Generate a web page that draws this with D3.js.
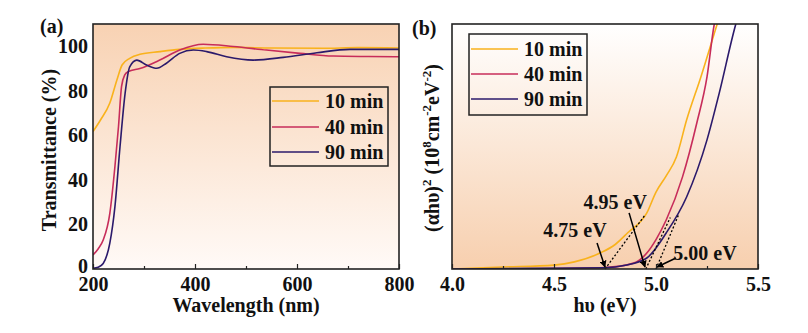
<!DOCTYPE html>
<html>
<head>
<meta charset="utf-8">
<script src="https://cdn.jsdelivr.net/npm/d3@7"></script>
<style>
  body { margin: 0; background: #fff; }
  svg text { font-family: "Liberation Serif", "Times New Roman", serif; font-weight: bold; fill: #111; }
</style>
</head>
<body>
<div id="chart"></div>
<script>
// ---- data: panel (a) transmittance, [wavelength nm, T %]
const trans10 = [[200,61.7],[215,67],[233,74.5],[247,85],[257,91.6],[272,94.6],[292,96.4],[331,97.6],[370,98.6],[420,99.2],[475,99.5],[550,99.2],[650,99.1],[720,99.4],[800,99.2]];
const trans40 = [[200,6.3],[210,9],[220,13],[233,25],[243,46],[250,64],[256,82],[262,87],[269,88.6],[292,90],[331,93.8],[370,98.3],[416,100.9],[475,99.9],[540,98.3],[606,96.8],[671,95.6],[740,95.4],[800,95.3]];
const trans90 = [[200,0.3],[210,0.8],[220,2.5],[233,11.6],[243,28],[253,55],[263,79],[272,90.8],[286,93.8],[305,91.6],[325,90.1],[344,92.4],[370,96.8],[397,98.3],[423,97.6],[462,95.3],[514,93.8],[573,95],[639,97.1],[704,98.6],[800,98.6]];

// ---- data: panel (b) Tauc plot, [hv eV, (ahv)^2 arb.]
const tauc10 = [[4.0,0],[4.25,0.08],[4.5,0.16],[4.6,0.29],[4.725,0.65],[4.8,1.0],[4.86,1.47],[4.955,2.29],[5.0,3.14],[5.05,3.8],[5.10,4.57],[5.15,6.08],[5.22,7.84],[5.30,10.0],[5.33,10.8]];
const tauc40 = [[4.0,0],[4.5,0.02],[4.75,0.06],[4.89,0.24],[4.955,0.65],[5.0,1.2],[5.05,2.0],[5.13,3.76],[5.20,5.96],[5.25,7.84],[5.285,9.96],[5.31,10.8]];
const tauc90 = [[4.0,0],[4.75,0.05],[4.85,0.15],[4.955,0.45],[5.05,1.47],[5.15,2.94],[5.25,5.27],[5.31,7.18],[5.39,9.96],[5.42,10.8]];

const seriesNames = ['10 min', '40 min', '90 min'];
const seriesColors = ['#f9b21c', '#c72c5a', '#2b1a6b'];

const transTicks = [0, 20, 40, 60, 80, 100];
const waveTicks = [200, 400, 600, 800];
const waveMinor = [300, 500, 700];
const hvTicks = [4.0, 4.5, 5.0, 5.5];
const hvMinor = [4.25, 4.75, 5.25];

// tangent lines [[x0,y0],[x1,y1]] and gap labels
const tangents = [[[4.75,0],[4.946,2.2]], [[4.95,0],[5.07,2.1]], [[5.00,0],[5.11,2.2]]];
const gapLabels = [
  { text: '4.75 eV', x: 4.603, y: 1.3, tail: [4.711,1.06], tip: [4.75,0.08] },
  { text: '4.95 eV', x: 4.80, y: 2.45, tail: [4.868,2.29], tip: [4.946,0.08] },
  { text: '5.00 eV', x: 5.24, y: 0.37, tail: [5.098,0.45], tip: [5.005,0.08] }
];

const W = 808, H = 333;
const svg = d3.select('#chart').append('svg').attr('width', W).attr('height', H);

const defs = svg.append('defs');
function gradient(id, topColor, bottomColor) {
  const g = defs.append('linearGradient').attr('id', id).attr('x1', 0).attr('y1', 0).attr('x2', 0).attr('y2', 1);
  g.append('stop').attr('offset', '0%').attr('stop-color', topColor);
  g.append('stop').attr('offset', '100%').attr('stop-color', bottomColor);
}
gradient('gradA', '#f8d2b3', '#fffaf7');
gradient('gradB', '#ffffff', '#f7cfae');

defs.append('marker')
  .attr('id', 'arrow').attr('viewBox', '0 0 10 10')
  .attr('refX', 9).attr('refY', 5)
  .attr('markerWidth', 7).attr('markerHeight', 7)
  .attr('markerUnits', 'userSpaceOnUse')
  .attr('orient', 'auto')
  .append('path').attr('d', 'M0,0 L10,5 L0,10 Z').attr('fill', '#000');

const box = { top: 24, bottom: 269 };

function panel(left, right, grad, clipId) {
  const g = svg.append('g');
  g.append('rect')
    .attr('x', left).attr('y', box.top)
    .attr('width', right - left).attr('height', box.bottom - box.top)
    .attr('fill', `url(#${grad})`);
  defs.append('clipPath').attr('id', clipId)
    .append('rect').attr('x', left).attr('y', box.top)
    .attr('width', right - left).attr('height', box.bottom - box.top);
  return g;
}

function frame(g, left, right) {
  g.append('rect')
    .attr('x', left).attr('y', box.top)
    .attr('width', right - left).attr('height', box.bottom - box.top)
    .attr('fill', 'none').attr('stroke', '#222').attr('stroke-width', 1.6);
}

// ===========================
// Panel (a)
// ===========================
const xA = d3.scaleLinear().domain([200, 800]).range([93, 399]);
const yA = d3.scaleLinear().domain([0, 110]).range([box.bottom, box.top]);
const gA = panel(93, 399, 'gradA', 'clipA');

const lineA = d3.line().x(d => xA(d[0])).y(d => yA(d[1])).curve(d3.curveMonotoneX);
[trans10, trans40, trans90].forEach((s, i) => {
  gA.append('path').datum(s)
    .attr('clip-path', 'url(#clipA)')
    .attr('d', lineA)
    .attr('fill', 'none')
    .attr('stroke', seriesColors[i])
    .attr('stroke-width', 1.6);
});

gA.append('g')
  .attr('transform', `translate(0,${box.bottom})`)
  .call(d3.axisBottom(xA).tickValues(waveTicks).tickSize(-5).tickPadding(4).tickFormat(d3.format('d')))
  .call(a => a.select('.domain').remove())
  .call(a => a.selectAll('line').attr('stroke', '#222').attr('stroke-width', 1.2))
  .call(a => a.selectAll('text').attr('font-size', 20).attr('dy', '0.9em'));
gA.append('g')
  .attr('transform', `translate(0,${box.bottom})`)
  .call(d3.axisBottom(xA).tickValues(waveMinor).tickSize(-3).tickFormat(''))
  .call(a => a.select('.domain').remove())
  .call(a => a.selectAll('line').attr('stroke', '#222').attr('stroke-width', 1.2));

gA.append('g')
  .attr('transform', `translate(93,0)`)
  .call(d3.axisLeft(yA).tickValues(transTicks).tickSize(0).tickPadding(5))
  .call(a => a.select('.domain').remove())
  .call(a => a.selectAll('text').attr('font-size', 20).attr('fill', '#111')
    .attr('dy', d => d === 0 ? '0.15em' : '0.32em'));

frame(gA, 93, 399);

svg.append('text').attr('x', 246).attr('y', 312).attr('text-anchor', 'middle')
  .attr('font-size', 20).text('Wavelength (nm)');
svg.append('text').attr('transform', 'translate(56,150) rotate(-90)').attr('text-anchor', 'middle')
  .attr('font-size', 20).text('Transmittance (%)');
svg.append('text').attr('x', 40).attr('y', 33).attr('font-size', 20).text('(a)');

function legend(x, y, w, h, rows) {
  const lg = svg.append('g');
  lg.append('rect').attr('x', x).attr('y', y).attr('width', w).attr('height', h)
    .attr('fill', 'none').attr('stroke', '#222').attr('stroke-width', 1.5);
  seriesNames.forEach((name, i) => {
    const cy = rows[i];
    lg.append('line').attr('x1', x + 2).attr('x2', x + 49).attr('y1', cy).attr('y2', cy)
      .attr('stroke', seriesColors[i]).attr('stroke-width', 1.6);
    lg.append('text').attr('x', x + 55).attr('y', cy).attr('dy', '0.34em')
      .attr('font-size', 20).text(name);
  });
}
legend(270, 87, 118, 79, [101, 127, 152]);

// ===========================
// Panel (b)
// ===========================
const xB = d3.scaleLinear().domain([4.0, 5.5]).range([452, 758]);
const yB = d3.scaleLinear().domain([0, 10]).range([box.bottom, box.top]);
const gB = panel(452, 758, 'gradB', 'clipB');

const lineB = d3.line().x(d => xB(d[0])).y(d => yB(d[1])).curve(d3.curveMonotoneX);
[tauc10, tauc40, tauc90].forEach((s, i) => {
  gB.append('path').datum(s)
    .attr('clip-path', 'url(#clipB)')
    .attr('d', lineB)
    .attr('fill', 'none')
    .attr('stroke', seriesColors[i])
    .attr('stroke-width', 1.6);
});

tangents.forEach(t => {
  gB.append('line')
    .attr('x1', xB(t[0][0])).attr('y1', yB(t[0][1]))
    .attr('x2', xB(t[1][0])).attr('y2', yB(t[1][1]))
    .attr('stroke', '#000').attr('stroke-width', 1.3).attr('stroke-dasharray', '2,2');
});

gapLabels.forEach(l => {
  gB.append('line')
    .attr('x1', xB(l.tail[0])).attr('y1', yB(l.tail[1]))
    .attr('x2', xB(l.tip[0])).attr('y2', yB(l.tip[1]))
    .attr('stroke', '#000').attr('stroke-width', 1.5)
    .attr('marker-end', 'url(#arrow)');
  gB.append('text')
    .attr('x', xB(l.x)).attr('y', yB(l.y))
    .attr('text-anchor', 'middle').attr('font-size', 20)
    .text(l.text);
});

gB.append('g')
  .attr('transform', `translate(0,${box.bottom})`)
  .call(d3.axisBottom(xB).tickValues(hvTicks).tickSize(-5).tickPadding(4).tickFormat(d3.format('.1f')))
  .call(a => a.select('.domain').remove())
  .call(a => a.selectAll('line').attr('stroke', '#222').attr('stroke-width', 1.2))
  .call(a => a.selectAll('text').attr('font-size', 20).attr('dy', '0.9em'));
gB.append('g')
  .attr('transform', `translate(0,${box.bottom})`)
  .call(d3.axisBottom(xB).tickValues(hvMinor).tickSize(-3).tickFormat(''))
  .call(a => a.select('.domain').remove())
  .call(a => a.selectAll('line').attr('stroke', '#222').attr('stroke-width', 1.2));

frame(gB, 452, 758);

svg.append('text').attr('x', 605).attr('y', 312).attr('text-anchor', 'middle')
  .attr('font-size', 20).text('h\u03c5 (eV)');
const yt = svg.append('text').attr('transform', 'translate(439,148) rotate(-90)')
  .attr('text-anchor', 'middle').attr('font-size', 20);
yt.append('tspan').text('(\u03b1h\u03c5)');
yt.append('tspan').attr('font-size', 13).attr('dy', -8).text('2');
yt.append('tspan').attr('dy', 8).text(' (10');
yt.append('tspan').attr('font-size', 13).attr('dy', -8).text('8');
yt.append('tspan').attr('dy', 8).text('cm');
yt.append('tspan').attr('font-size', 13).attr('dy', -8).text('-2');
yt.append('tspan').attr('dy', 8).text('eV');
yt.append('tspan').attr('font-size', 13).attr('dy', -8).text('-2');
yt.append('tspan').attr('dy', 8).text(')');
svg.append('text').attr('x', 412).attr('y', 35).attr('font-size', 20).text('(b)');

legend(469, 34, 118, 81, [49, 74, 99]);
</script>
</body>
</html>
